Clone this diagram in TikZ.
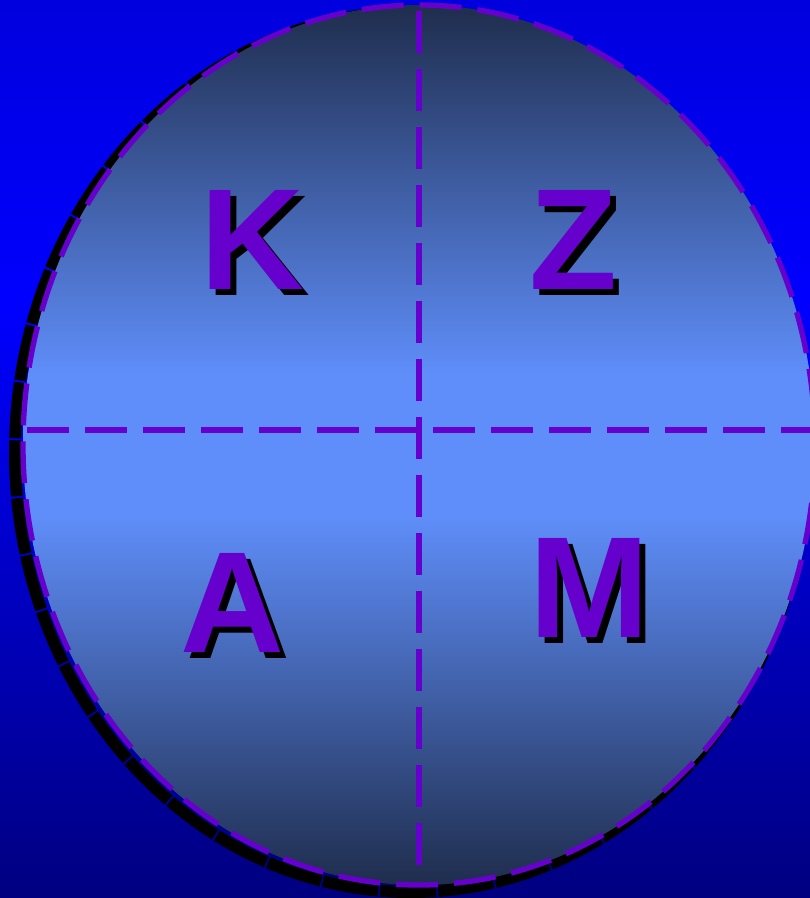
\documentclass[tikz,border=0pt]{standalone}
\usepackage{fontspec}
\setmainfont{Liberation Sans}
\usetikzlibrary{positioning}

\definecolor{bgtop}{HTML}{0000DE}
\definecolor{bgmid}{HTML}{0000FF}
\definecolor{bgbot}{HTML}{000080}
\definecolor{discedge}{HTML}{1F2D4D}
\definecolor{disccore}{HTML}{5F8EFA}
\definecolor{linepurple}{HTML}{6600CC}

\pgfdeclareverticalshading{backdrop}{100bp}{color(0bp)=(bgbot); color(25bp)=(bgbot); color(58bp)=(bgmid); color(75bp)=(bgtop); color(100bp)=(bgtop)}
\pgfdeclareverticalshading{discfill}{100bp}{color(0bp)=(discedge); color(25bp)=(discedge); color(46bp)=(disccore); color(54bp)=(disccore); color(75bp)=(discedge); color(100bp)=(discedge)}

\tikzset{
    quarterline/.style={draw=linepurple, line width=5.3pt, dash pattern=on 42pt off 16pt},
    letter/.style={font=\fontsize{144}{144}\selectfont\bfseries, text=linepurple, inner sep=0pt},
    lettershadow/.style={letter, text=black}
}

\begin{document}
\begin{tikzpicture}[x=1pt,y=-1pt]
    \useasboundingbox (0,0) rectangle (810,898);
    \shade[shading=backdrop] (0,0) rectangle (810,898);
    % shadow of the disc
    \draw[black, line width=12pt, line cap=rect, dash pattern=on 44pt off 14pt] (411,452) ellipse [x radius=396, y radius=440];
    % the disc
    \shade[shading=discfill] (419,445) ellipse [x radius=396, y radius=440];
    \draw[draw=linepurple, line width=5.3pt, dash pattern=on 42pt off 16pt] (419,445) ellipse [x radius=396, y radius=440];
    \coordinate (top) at (419,11);
    \coordinate (bottom) at (419,870);
    \coordinate (left) at (27,430);
    \coordinate (right) at (812,430);
    \draw[quarterline] (top) -- (bottom);
    \draw[quarterline] (left) -- (right);
    % letters
    \node[lettershadow] (kS) at (258,246) {K};
    \node[letter] (K) at (252,240) {K};
    \node[lettershadow] (zS) at (579,246) {Z};
    \node[letter] (Z) at (573,240) {Z};
    \node[lettershadow] (aS) at (238,609) {A};
    \node[letter] (A) at (232,603) {A};
    \node[lettershadow] (mS) at (595,594) {M};
    \node[letter] (M) at (589,588) {M};
\end{tikzpicture}
\end{document}
